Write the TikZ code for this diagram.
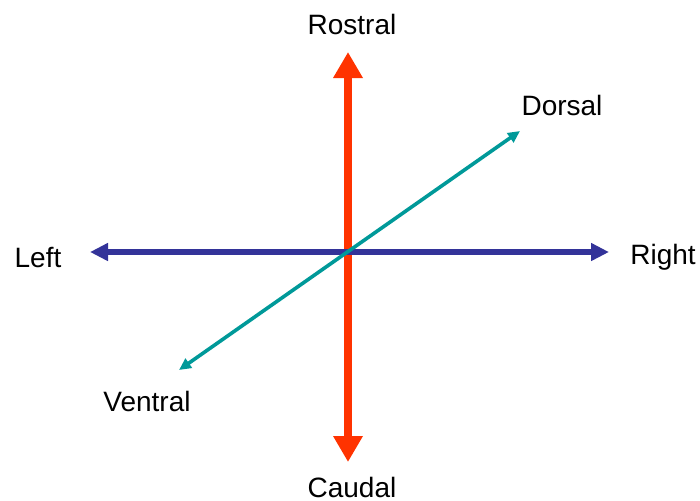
\documentclass[tikz,border=0pt]{standalone}
\usepackage{fontspec}
\setmainfont{Liberation Sans}
\usepackage{tikz}
\usetikzlibrary{arrows.meta}

\begin{document}
\begin{tikzpicture}[
  x=0.5pt, y=-0.5pt,
  font=\fontsize{14}{16}\selectfont,
  lbl/.style={inner sep=0pt, anchor=center},
  rc/.style={draw={rgb,255:red,255;green,51;blue,0}, line width=4pt,
             {Triangle[length=13pt, width=14pt]}-{Triangle[length=13pt, width=14pt]}},
  lr/.style={draw={rgb,255:red,51;green,51;blue,153}, line width=2.8pt,
             {Triangle[length=9pt, width=8.5pt]}-{Triangle[length=9pt, width=8.5pt]}},
  dv/.style={draw={rgb,255:red,0;green,153;blue,153}, line width=1.8pt,
             {Triangle[length=6pt, width=5.5pt]}-{Triangle[length=6pt, width=5.5pt]}}
]
\useasboundingbox (0,0) rectangle (700,500);

% labels
\node[lbl] (rostral) at (352,24) {Rostral};
\node[lbl] (caudal) at (352,487) {Caudal};
\node[lbl] (left) at (38,257) {Left};
\node[lbl] (right) at (663,257) {Right};
\node[lbl] (dorsal) at (562,105) {Dorsal};
\node[lbl] (ventral) at (147,401) {Ventral};

% arrow ends
\coordinate (rtip) at (348,52);
\coordinate (ctip) at (348,462);
\coordinate (ltip) at (90,252);
\coordinate (rgtip) at (609,252);
\coordinate (dtip) at (520,131);
\coordinate (vtip) at (179,370);

\draw[rc] (ctip) -- (rtip);
\draw[lr] (ltip) -- (rgtip);
\draw[dv] (vtip) -- (dtip);
\end{tikzpicture}
\end{document}
